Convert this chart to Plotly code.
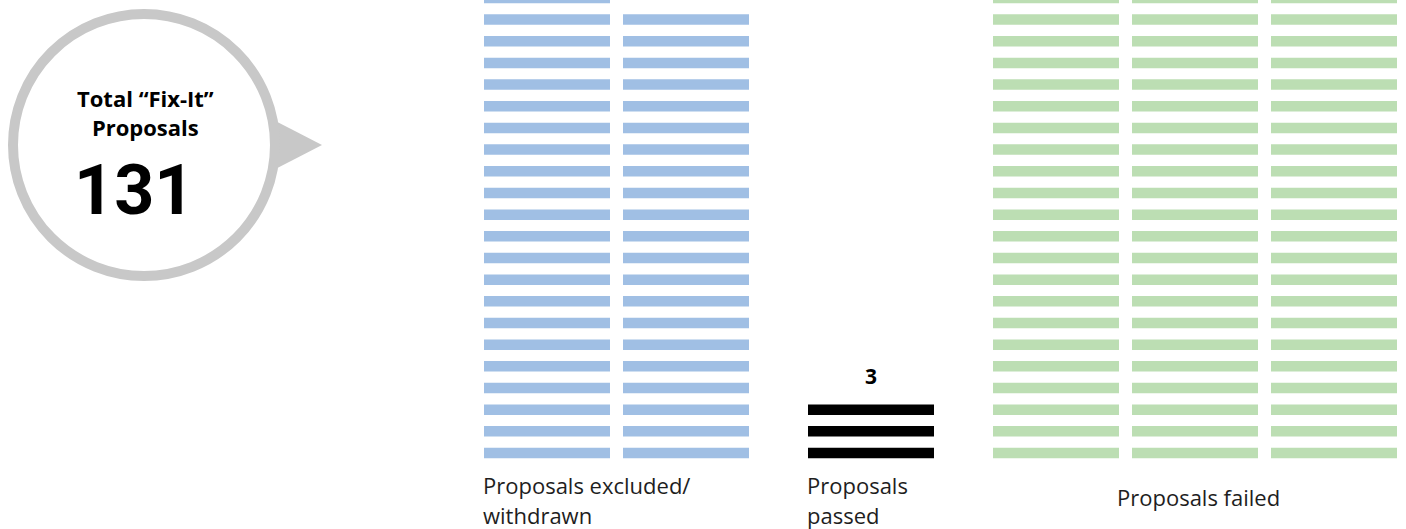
import math
import plotly.graph_objects as go

# Proposal outcomes: one stacked slab per proposal
categories = ["excluded", "passed", "failed"]
label_lines = [["Proposals excluded/", "withdrawn"], ["Proposals", "passed"], ["Proposals failed"]]
counts = [43, 3, 85]
columns_per_group = [2, 1, 3]
colors = ["#a0bfe4", "#000000", "#bcdeb3"]

# layout constants (x axis is in screen pixels, y axis in slab rows)
W, H = 1406, 529
ROW_PX = 21.67
BOTTOM_PX = 453
SLAB_PX = 10.5
COL_W = 126
COL_PITCH = 139
GROUP_GAP = 46
FIRST_CENTER = 547
FONT = "'Open Sans', Lato, sans-serif"
TXT = "#1e1e1e"


def py(px):
    """screen pixel row -> paper fraction"""
    return 1 - px / H


slab_h = SLAB_PX / ROW_PX
fig = go.Figure()

centers = []
x = FIRST_CENTER
for g, (cat, n, ncol, col) in enumerate(zip(categories, counts, columns_per_group, colors)):
    col_centers = [x + j * COL_PITCH for j in range(ncol)]
    centers.append(col_centers)
    xs, bases = [], []
    for i in range(n):
        r, c = divmod(i, ncol)
        xs.append(col_centers[c])
        bases.append(r - slab_h / 2)
    fig.add_trace(go.Bar(
        x=xs, y=[slab_h] * n, base=bases, width=COL_W,
        marker=dict(color=col, line=dict(width=0)),
        name=cat, showlegend=False, hoverinfo="skip",
    ))
    x = col_centers[-1] + COL_PITCH + GROUP_GAP

# group labels under the slabs
LABEL_SIZE = 22
for g, lines in enumerate(label_lines):
    left = centers[g][0] - COL_W / 2
    mid = (centers[g][0] + centers[g][-1]) / 2
    if len(lines) == 1:
        fig.add_annotation(x=mid + 3, y=py(497), xref="x", yref="paper", text=lines[0],
                           showarrow=False, xanchor="center", yanchor="middle",
                           font=dict(family=FONT, size=LABEL_SIZE, color=TXT))
    else:
        n_lines = len(lines)
        for k, line in enumerate(lines):
            bottom_px = H + 3 - 30 * (n_lines - 1 - k)
            fig.add_annotation(x=left - 3, y=py(bottom_px), xref="x", yref="paper", text=line,
                               showarrow=False, xanchor="left", yanchor="bottom",
                               font=dict(family=FONT, size=LABEL_SIZE, color=TXT))

# count above the passed column
passed_rows = math.ceil(counts[1] / columns_per_group[1])
fig.add_annotation(x=centers[1][0], y=passed_rows + 0.55, text=f"<b>{counts[1]}</b>",
                   showarrow=False, xanchor="center", yanchor="middle",
                   font=dict(family=FONT, size=21, color="#000"))

# speech bubble with the total
CX, CY, R = 144, 145, 131
GRAY = "#c8c8c8"
tri = f"M 258,{py(112)} L 322,{py(145)} L 258,{py(178)} Z"
fig.add_shape(type="path", path=tri, xref="x", yref="paper",
              fillcolor=GRAY, line=dict(width=0))
fig.add_shape(type="circle", xref="x", yref="paper",
              x0=CX - R, x1=CX + R, y0=py(CY + R), y1=py(CY - R),
              fillcolor="white", line=dict(color=GRAY, width=10))
fig.add_annotation(x=145, y=py(112), xref="x", yref="paper",
                   text="<b>Total “Fix-It”</b><br><b>Proposals</b>",
                   showarrow=False, xanchor="center", yanchor="middle", align="center",
                   font=dict(family=FONT, size=22, color="#000"))
fig.add_annotation(x=134, y=py(190), xref="x", yref="paper", text=f"<b>{sum(counts)}</b>",
                   showarrow=False, xanchor="center", yanchor="middle",
                   font=dict(family="Roboto, sans-serif", size=70, color="#000"))

fig.update_layout(
    width=W, height=H,
    margin=dict(l=0, r=0, t=0, b=0),
    paper_bgcolor="white", plot_bgcolor="white",
    barmode="overlay",
    xaxis=dict(range=[0, W], visible=False, fixedrange=True),
    yaxis=dict(range=[(BOTTOM_PX - H) / ROW_PX, BOTTOM_PX / ROW_PX], visible=False, fixedrange=True),
)

fig.write_html("out.html")
